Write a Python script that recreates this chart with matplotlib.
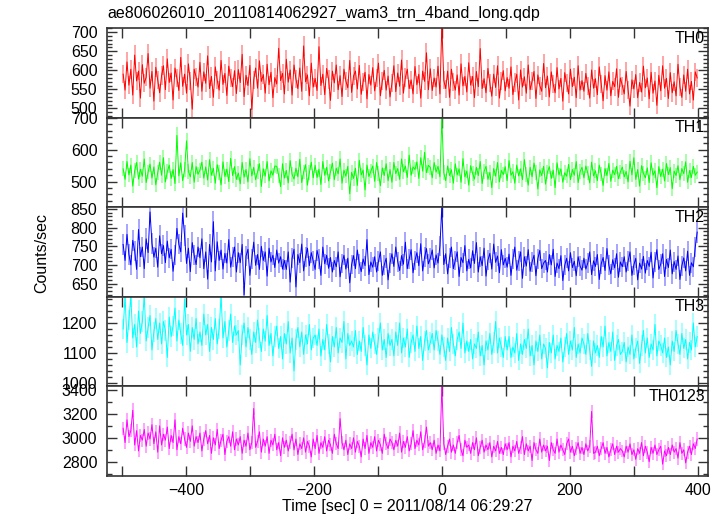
import matplotlib
matplotlib.use('Agg')
import matplotlib.pyplot as plt
import matplotlib.ticker as ticker
import numpy as np

# time bins (sec from 2011/08/14 06:29:27), 3 s apart, one row = 60 s
time_start = -498
time_step = 3

th0 = [590, 548, 622, 561, 603, 535, 640, 572, 598, 527, 615, 566, 582, 644, 553, 597, 519, 608, 575, 541,
       586, 612, 549, 630, 568, 593, 522, 606, 579, 547, 634, 558, 590, 540, 617, 571, 498, 603, 582, 556,
       621, 545, 596, 566, 638, 552, 584, 529, 609, 574, 548, 626, 563, 592, 534, 611, 580, 557, 599, 539,
       602, 568, 642, 531, 587, 560, 613, 497, 575, 606, 553, 625, 571, 589, 540, 616, 562, 595, 528, 581,
       564, 658, 573, 592, 538, 629, 569, 601, 535, 614, 577, 552, 606, 545, 664, 570, 588, 533, 619, 556,
       579, 547, 662, 560, 590, 536, 605, 576, 521, 598, 567, 614, 549, 586, 531, 603, 572, 554, 626, 542,
       585, 598, 551, 613, 537, 570, 595, 525, 589, 561, 607, 546, 579, 619, 533, 572, 600, 548, 585, 530,
       566, 612, 544, 593, 558, 627, 540, 581, 603, 552, 575, 538, 610, 562, 590, 527, 598, 571, 646, 549,
       604, 547, 580, 556, 611, 538, 720, 574, 552, 598, 529, 603, 570, 548, 588, 535, 617, 559, 584, 543,
       620, 561, 584, 528, 597, 557, 657, 552, 578, 541, 605, 566, 532, 590, 555, 612, 527, 572, 599, 546,
       581, 553, 609, 536, 568, 590, 522, 601, 556, 583, 540, 614, 549, 571, 597, 526, 588, 560, 545, 618,
       554, 585, 530, 596, 563, 541, 607, 551, 579, 519, 594, 566, 538, 603, 557, 582, 528, 612, 548, 573,
       545, 592, 560, 527, 601, 553, 578, 536, 609, 565, 520, 586, 548, 596, 533, 571, 557, 604, 529, 580,
       560, 538, 597, 549, 506, 575, 551, 589, 528, 568, 543, 611, 554, 580, 525, 595, 540, 572, 508, 587,
       546, 612, 553, 579, 526, 594, 541, 570, 533, 616, 557, 529, 588, 545, 603, 538, 571, 522, 596, 580]

th1 = [540, 507, 563, 521, 552, 486, 534, 560, 508, 539, 517, 571, 497, 530, 555, 511, 546, 490, 528, 561,
       520, 575, 499, 531, 552, 510, 538, 494, 645, 518, 559, 503, 537, 628, 532, 515, 560, 498, 547, 523,
       536, 561, 511, 546, 505, 569, 520, 542, 495, 553, 528, 490, 562, 516, 539, 500, 573, 519, 547, 507,
       527, 493, 560, 514, 538, 499, 572, 518, 545, 506, 531, 556, 485, 540, 517, 563, 502, 534, 520, 549,
       548, 519, 484, 556, 511, 535, 496, 566, 523, 508, 542, 515, 570, 497, 530, 553, 489, 528, 561, 512,
       551, 513, 539, 491, 563, 520, 545, 502, 531, 558, 506, 542, 524, 571, 495, 536, 517, 548, 462, 529,
       510, 542, 488, 567, 521, 536, 474, 552, 516, 533, 549, 501, 560, 525, 487, 543, 519, 556, 503, 538,
       498, 560, 525, 541, 507, 571, 531, 549, 513, 583, 520, 546, 538, 562, 510, 575, 533, 592, 528, 551,
       545, 512, 560, 530, 548, 515, 700, 528, 503, 549, 519, 537, 495, 556, 521, 540, 498, 572, 515, 533,
       489, 550, 526, 508, 545, 519, 563, 494, 532, 548, 507, 529, 481, 541, 517, 560, 499, 535, 522, 547,
       503, 566, 520, 531, 495, 552, 518, 540, 506, 569, 523, 489, 545, 515, 558, 529, 477, 537, 519, 548,
       492, 530, 547, 510, 536, 481, 559, 521, 540, 498, 528, 517, 554, 506, 538, 520, 563, 497, 531, 545,
       512, 549, 527, 496, 561, 518, 534, 503, 552, 524, 488, 541, 519, 557, 501, 536, 522, 548, 509, 530,
       546, 515, 532, 499, 564, 521, 575, 507, 538, 486, 550, 526, 512, 543, 497, 559, 520, 534, 481, 547,
       516, 539, 502, 557, 522, 544, 478, 533, 519, 550, 506, 541, 525, 562, 498, 535, 513, 548, 520, 530]

th2 = [755, 712, 782, 728, 700, 766, 738, 688, 795, 722, 748, 690, 770, 733, 842, 758, 721, 745, 694, 778,
       730, 752, 706, 764, 719, 742, 683, 727, 798, 756, 735, 839, 778, 704, 745, 682, 760, 726, 701, 748,
       719, 770, 690, 735, 662, 755, 708, 816, 684, 762, 712, 740, 689, 731, 705, 768, 694, 722, 748, 681,
       733, 706, 755, 620, 724, 742, 672, 716, 761, 699, 728, 688, 750, 712, 735, 670, 745, 708, 726, 693,
       740, 705, 722, 689, 712, 688, 735, 654, 718, 742, 641, 728, 706, 756, 684, 721, 745, 698, 733, 710,
       688, 739, 716, 672, 748, 703, 726, 691, 720, 681, 712, 695, 735, 668, 704, 726, 689, 718, 652, 701,
       725, 690, 740, 703, 682, 716, 698, 768, 674, 708, 694, 722, 681, 710, 735, 672, 700, 718, 660, 705,
       730, 696, 748, 709, 685, 725, 702, 761, 690, 716, 741, 679, 712, 733, 698, 757, 684, 721, 744, 703,
       718, 740, 692, 727, 705, 751, 858, 701, 730, 676, 719, 748, 690, 712, 735, 669, 720, 706, 752, 684,
       715, 692, 738, 704, 760, 681, 722, 698, 745, 670, 713, 731, 689, 756, 707, 724, 679, 741, 700, 718,
       694, 729, 672, 715, 748, 686, 711, 735, 664, 722, 697, 741, 683, 708, 726, 671, 717, 739, 690, 705,
       712, 681, 728, 700, 742, 669, 705, 690, 725, 658, 699, 718, 684, 733, 693, 710, 671, 722, 697, 686,
       718, 689, 705, 735, 674, 711, 696, 728, 661, 703, 720, 685, 744, 699, 676, 714, 692, 730, 667, 708,
       695, 722, 681, 710, 735, 672, 700, 718, 660, 705, 689, 723, 678, 712, 696, 734, 665, 708, 741, 688,
       702, 730, 669, 715, 693, 740, 676, 709, 688, 724, 661, 698, 719, 684, 737, 672, 706, 695, 748, 788]

th3 = [1180, 1290, 1135, 1210, 1290, 1150, 1195, 1120, 1240, 1165, 1205, 1290, 1140, 1185, 1225, 1110, 1170, 1215, 1145, 1200,
       1130, 1205, 1175, 1085, 1220, 1155, 1190, 1250, 1140, 1210, 1165, 1125, 1280, 1160, 1195, 1105, 1185, 1145, 1215, 1130,
       1170, 1125, 1230, 1160, 1195, 1105, 1185, 1145, 1215, 1130, 1180, 1290, 1150, 1205, 1120, 1175, 1230, 1135, 1190, 1160,
       1175, 1060, 1160, 1200, 1120, 1185, 1145, 1095, 1170, 1135, 1210, 1150, 1105, 1180, 1140, 1225, 1125, 1165, 1090, 1155,
       1190, 1115, 1155, 1080, 1165, 1130, 1205, 1100, 1150, 1040, 1145, 1185, 1120, 1170, 1095, 1160, 1130, 1195, 1110, 1150,
       1160, 1125, 1180, 1090, 1145, 1110, 1195, 1130, 1070, 1155, 1120, 1185, 1100, 1150, 1135, 1205, 1080, 1165, 1125, 1140,
       1120, 1175, 1095, 1140, 1105, 1185, 1125, 1060, 1160, 1115, 1170, 1130, 1095, 1150, 1200, 1110, 1145, 1085, 1165, 1125,
       1145, 1090, 1170, 1125, 1200, 1100, 1150, 1120, 1180, 1085, 1135, 1160, 1105, 1190, 1115, 1155, 1075, 1140, 1175, 1110,
       1135, 1165, 1110, 1175, 1140, 1095, 1160, 1120, 1075, 1150, 1105, 1185, 1130, 1090, 1145, 1170, 1115, 1200, 1100, 1140,
       1105, 1145, 1080, 1130, 1115, 1170, 1090, 1125, 1060, 1140, 1110, 1165, 1095, 1135, 1205, 1100, 1150, 1120, 1085, 1155,
       1110, 1155, 1085, 1120, 1100, 1165, 1075, 1130, 1095, 1145, 1115, 1180, 1090, 1125, 1060, 1140, 1105, 1160, 1080, 1130,
       1115, 1050, 1135, 1100, 1160, 1080, 1125, 1105, 1150, 1070, 1120, 1165, 1095, 1140, 1110, 1185, 1085, 1130, 1100, 1150,
       1130, 1095, 1165, 1110, 1055, 1140, 1100, 1125, 1085, 1155, 1120, 1190, 1090, 1135, 1105, 1170, 1075, 1125, 1145, 1095,
       1105, 1135, 1070, 1120, 1095, 1160, 1080, 1115, 1140, 1065, 1125, 1175, 1100, 1150, 1085, 1130, 1110, 1195, 1090, 1140,
       1125, 1100, 1150, 1085, 1120, 1060, 1140, 1105, 1175, 1130, 1095, 1165, 1115, 1145, 1080, 1135, 1110, 1200, 1120, 1155]

th0123 = [3080, 2960, 3150, 3010, 3060, 3230, 2940, 3060, 2890, 3020, 2980, 3070, 2930, 3040, 2990, 3110, 2950, 3050, 2880, 3100,
          2940, 3030, 2980, 3090, 2910, 3020, 2960, 3150, 2900, 3010, 2950, 3080, 2990, 2920, 3040, 2970, 3100, 2930, 3010, 2960,
          3040, 2890, 2990, 3060, 2950, 3020, 2870, 3000, 2940, 3070, 2910, 2980, 3030, 2860, 2970, 3010, 2930, 3050, 2900, 2990,
          2940, 3010, 2870, 2980, 2930, 3040, 2900, 2960, 3245, 2920, 2970, 3050, 2880, 2990, 2930, 3010, 2870, 2980, 2940, 3030,
          2900, 2960, 2850, 3000, 2920, 2980, 2890, 2960, 3030, 2900, 2990, 2860, 2950, 2910, 3000, 2880, 2970, 2930, 2840, 2990,
          2910, 3020, 2870, 2960, 2920, 3010, 2890, 2980, 2940, 2870, 3030, 2950, 2910, 3160, 2960, 2900, 2980, 2860, 2950, 2910,
          3000, 2880, 2970, 2930, 2840, 2990, 2910, 3020, 2870, 2960, 2920, 3010, 2890, 2980, 2940, 2870, 3030, 2950, 2910, 2990,
          2960, 2900, 2980, 2930, 3040, 2880, 2970, 2920, 3010, 2890, 2950, 3060, 2910, 2980, 2940, 3050, 2900, 2970, 3090, 2930,
          2960, 2900, 2980, 2870, 2940, 2890, 3440, 2950, 2860, 2930, 2990, 2880, 2940, 2870, 2960, 3020, 2900, 2850, 2980, 2920,
          2940, 2870, 2960, 2900, 3000, 2850, 2920, 2980, 2880, 2940, 2900, 2960, 2840, 2930, 2890, 2970, 2870, 2920, 2860, 2950,
          2900, 2960, 2840, 2930, 2890, 2970, 2870, 2920, 3010, 2860, 2950, 2890, 2930, 2810, 2960, 2900, 2870, 2990, 2880, 2940,
          2890, 2930, 2810, 2960, 2900, 2870, 2990, 2880, 2940, 2900, 2860, 2950, 2990, 2880, 2930, 2850, 2910, 2960, 2870, 2920,
          2860, 2950, 2890, 2930, 3220, 2870, 2880, 2930, 2850, 2910, 2960, 2870, 2920, 2840, 2900, 2950, 2860, 2930, 2880, 2910,
          2890, 2840, 2930, 2880, 2950, 2860, 2900, 2820, 2910, 2870, 2960, 2850, 2930, 2880, 2800, 2920, 2870, 2940, 2860, 2900,
          2930, 2780, 2890, 2850, 2920, 2860, 2940, 2880, 2910, 2830, 2960, 2870, 2900, 2790, 2880, 2930, 2860, 2950, 2910, 2990]

band_names = ['TH0', 'TH1', 'TH2', 'TH3', 'TH0123']
band_rates = [th0, th1, th2, th3, th0123]

title = 'ae806026010_20110814062927_wam3_trn_4band_long.qdp'
x_label = 'Time [sec] 0 = 2011/08/14 06:29:27'
y_label = 'Counts/sec'

# styling per panel
colors = ['#ff0000', '#00ff00', '#0000ff', '#00ffff', '#ff00ff']
y_limits = [(476, 711), (420, 701), (615, 855), (989, 1288), (2683, 3431)]
y_major = [50, 100, 50, 100, 200]
y_minor = [10, 20, 10, 20, 100]


def x_tick_label(value, pos):
    if int(round(value)) % 200 != 0:
        return ''
    return f'{int(round(value))}'.replace('-', '\u2212')


def draw_panel(ax, rate, name, color, ylim, major, minor):
    rate = np.asarray(rate, dtype=float)
    time = time_start + time_step * np.arange(len(rate))
    # poisson errors for 1 s bins, drawn lighter like qdp
    ax.errorbar(time, rate, yerr=np.sqrt(rate), fmt='none', ecolor=color,
                elinewidth=1.1, alpha=0.45)
    ax.plot(time, rate, color=color, linewidth=0.7)

    ax.set_xlim(-523, 416)
    ax.set_ylim(*ylim)
    ax.xaxis.set_major_locator(ticker.MultipleLocator(100))
    ax.xaxis.set_major_formatter(ticker.FuncFormatter(x_tick_label))
    ax.yaxis.set_major_locator(ticker.MultipleLocator(major))
    ax.yaxis.set_minor_locator(ticker.MultipleLocator(minor))

    ax.tick_params(which='both', direction='in', top=True, right=True,
                   color='#333333', width=1.0, labelsize=11.5)
    ax.tick_params(axis='y', pad=7)
    ax.tick_params(axis='x', pad=5)
    ax.tick_params(which='major', length=7)
    ax.tick_params(which='minor', length=3.5)
    for spine in ax.spines.values():
        spine.set_color('#333333')
        spine.set_linewidth(1.2)

    ax.text(0.995, 0.97, name, transform=ax.transAxes, ha='right', va='top',
            fontsize=11.5)


def main():
    plt.rcParams['font.family'] = ['Liberation Sans', 'DejaVu Sans']

    fig, axes = plt.subplots(5, 1, sharex=True, figsize=(7.24, 5.16), dpi=100)
    fig.subplots_adjust(left=0.148, right=0.978, top=0.9457, bottom=0.078, hspace=0)

    for i, ax in enumerate(axes):
        draw_panel(ax, band_rates[i], band_names[i], colors[i],
                   y_limits[i], y_major[i], y_minor[i])
        if i < len(axes) - 1:
            ax.tick_params(labelbottom=False)

    fig.text(0.148, 0.988, title, ha='left', va='top', fontsize=11.5)
    fig.text(0.057, 0.51, y_label, rotation=90, ha='center', va='center', fontsize=11.5)
    axes[-1].set_xlabel(x_label, fontsize=11.5, labelpad=1)

    plt.savefig('out.png', dpi=100)


if __name__ == '__main__':
    main()
